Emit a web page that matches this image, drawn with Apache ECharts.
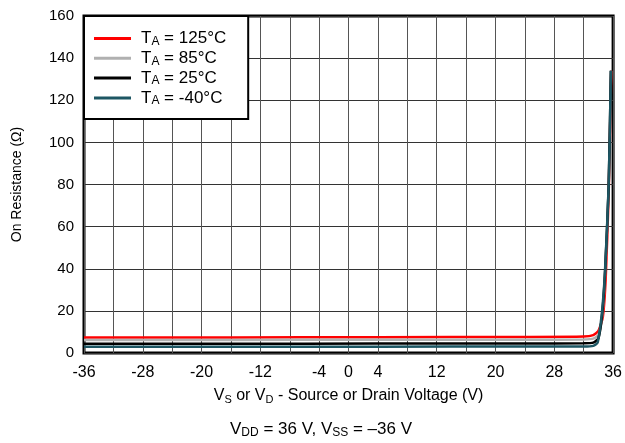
<!DOCTYPE html>
<html>
<head>
<meta charset="utf-8">
<script src="https://cdn.jsdelivr.net/npm/echarts@6/dist/echarts.min.js"></script>
<style>
  html, body { margin: 0; padding: 0; background: #fff; }
  #chart { width: 625px; height: 443px; }
</style>
</head>
<body>
<div id="chart"></div>
<script>
/**
 * DATA
 */
var temps = ['125', '85', '25', '-40'];
var colors = ['#ff0000', '#b0b0b0', '#000000', '#1d5663'];
var xLabels = [-36, -28, -20, -12, -4, 0, 4, 12, 20, 28, 36];

// [V, ohm]
var ron125 = [[-36, 7.3], [-16, 7.4], [4, 7.5], [24, 7.6], [32, 7.8], [33.3, 8.5], [34.0, 10.5], [34.6, 17], [35.0, 36], [35.4, 76], [35.75, 134]];
var ron85 = [[-36, 6.2], [-16, 6.2], [4, 6.3], [24, 6.3], [32, 6.4], [33.3, 6.8], [34.0, 8.5], [34.5, 17], [34.9, 37], [35.4, 78], [35.72, 134]];
var ron25 = [[-36, 4.4], [-16, 4.4], [4, 4.5], [24, 4.5], [32, 4.6], [33.3, 4.9], [34.0, 7], [34.5, 18], [34.9, 38], [35.4, 79], [35.7, 134]];
var ronM40 = [[-36, 3.0], [-16, 3.0], [4, 3.0], [24, 3.1], [32, 3.1], [33.3, 3.4], [33.9, 5], [34.5, 20], [34.9, 39], [35.4, 80], [35.7, 134]];
var seriesData = [ron125, ron85, ron25, ronM40];

/**
 * CODE
 */
var font = 'Arial, "Liberation Sans", sans-serif';
var chart = echarts.init(document.getElementById('chart'));

function subRich(size, lh) {
    return {
        n: { fontSize: size, color: '#000', fontFamily: font, fontWeight: 'normal', lineHeight: lh },
        s: { fontSize: Math.round(size * 0.7), color: '#000', fontFamily: font, fontWeight: 'normal', lineHeight: 10, verticalAlign: 'bottom' }
    };
}

var series = seriesData.map(function (d, i) {
    return {
        name: temps[i],
        type: 'line',
        data: d,
        showSymbol: false,
        smooth: 0.2,
        z: 3 + i,
        lineStyle: { color: colors[i], width: 2.5 },
        itemStyle: { color: colors[i] }
    };
});

chart.setOption({
    animation: false,
    grid: {
        left: 84, right: 9, top: 16, bottom: 90,
        show: true, borderColor: '#000', borderWidth: 3
    },
    xAxis: {
        type: 'value',
        min: -36, max: 36, interval: 4,
        axisLine: { show: false },
        axisTick: { show: false },
        splitLine: { lineStyle: { color: '#555', width: 1 } },
        axisLabel: {
            color: '#000', fontSize: 16, fontFamily: font, margin: 12,
            formatter: function (v) {
                return xLabels.indexOf(v) >= 0 ? String(v) : '';
            }
        },
        name: '{n|V}{s|S}{n| or V}{s|D}{n| - Source or Drain Voltage (V)}',
        nameLocation: 'middle',
        nameGap: 34,
        nameTextStyle: { fontFamily: font, rich: subRich(16, 18) }
    },
    yAxis: {
        type: 'value',
        min: 0, max: 160, interval: 20,
        axisLine: { show: false },
        axisTick: { show: false },
        splitLine: { lineStyle: { color: '#333', width: 1 } },
        axisLabel: { color: '#000', fontSize: 15, fontFamily: font, margin: 10 },
        name: 'On Resistance (\u03a9)',
        nameLocation: 'middle',
        nameGap: 60,
        nameTextStyle: { color: '#000', fontSize: 14, fontFamily: font }
    },
    legend: {
        orient: 'vertical',
        left: 84, top: 16,
        backgroundColor: '#fff',
        borderColor: '#000', borderWidth: 2,
        padding: [14, 22, 12, 10],
        itemGap: 2.3,
        itemWidth: 37, itemHeight: 3,
        icon: 'rect',
        data: temps,
        formatter: function (name) {
            return '{n|T}{s|A}{n| = ' + name + '\u00b0C}';
        },
        textStyle: {
            padding: [0, 0, 0, 5],
            rich: subRich(17, 18)
        }
    },
    title: {
        left: 225, top: 415,
        text: '{n|V}{s|DD}{n| = 36 V, V}{s|SS}{n| = \u201336 V}',
        textStyle: { fontWeight: 'normal', rich: subRich(17, 19) }
    },
    series: series
});
</script>
</body>
</html>
